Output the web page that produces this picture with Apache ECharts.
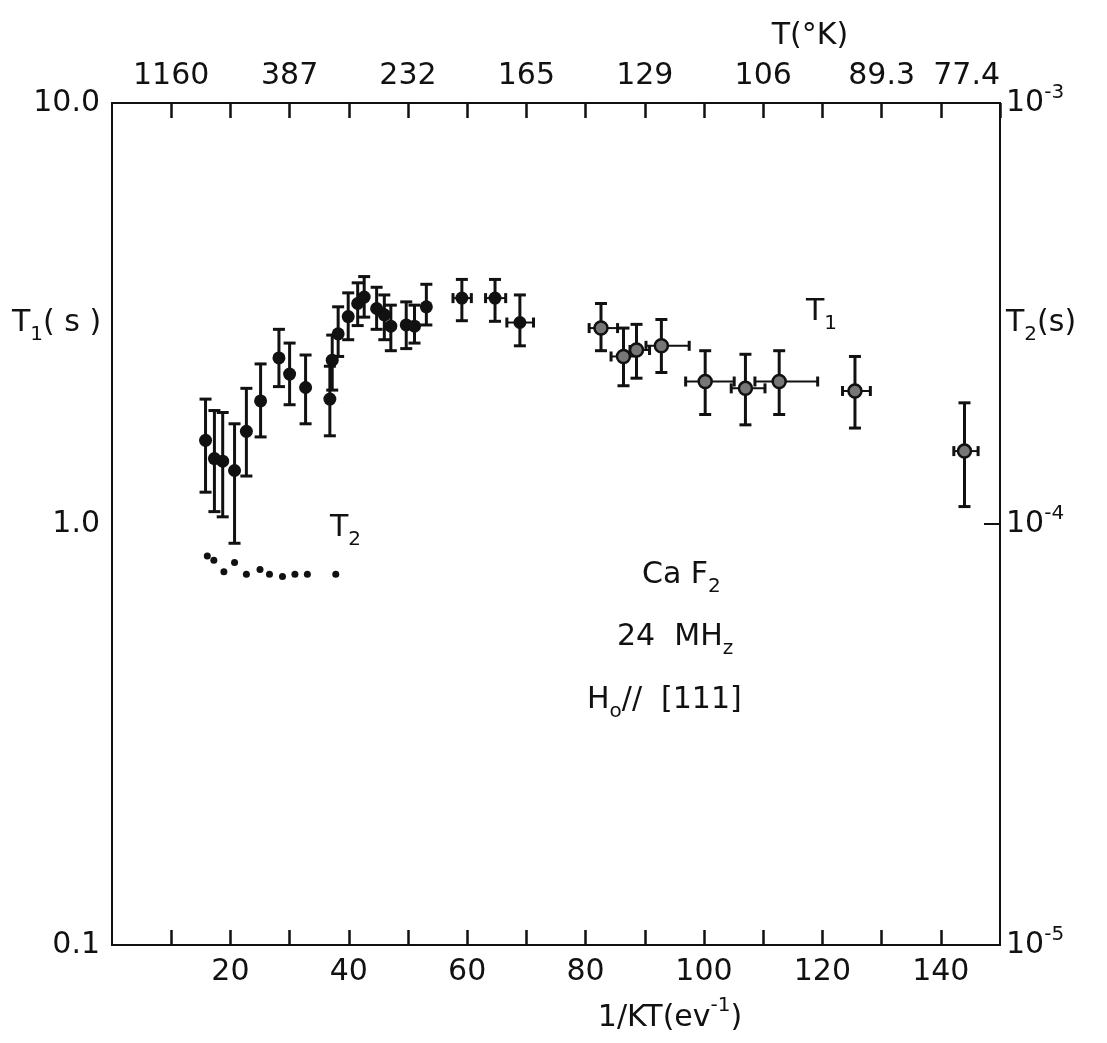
<!DOCTYPE html>
<html><head><meta charset="utf-8">
<script src="https://cdn.jsdelivr.net/npm/echarts@6/dist/echarts.min.js"></script>
<style>html,body{margin:0;padding:0;background:#fff}#c{width:1107px;height:1043px}</style>
</head><body><div id="c"></div>
<script>
// ---- T1 (s) vs 1/kT (eV^-1), with error bars ----
const t1X   = [15.8,17.3,18.7,20.7,22.7,25.1,28.2,30.0,32.7,36.8,37.2,38.2,39.9,41.5,42.6,44.7,46.0,47.1,49.7,51.1,53.1,59.1,64.7,68.9,82.6,86.4,88.6,92.8,100.2,107.0,112.7,125.5,144.0];
const t1Y   = [1.58,1.43,1.41,1.34,1.66,1.96,2.48,2.27,2.11,1.98,2.45,2.83,3.11,3.34,3.46,3.25,3.14,2.95,2.97,2.95,3.28,3.44,3.44,3.01,2.92,2.50,2.59,2.65,2.18,2.10,2.18,2.07,1.49];
const t1Hi  = [1.98,1.86,1.84,1.73,2.10,2.40,2.90,2.69,2.52,2.37,2.81,3.28,3.54,3.74,3.87,3.65,3.50,3.31,3.37,3.31,3.71,3.81,3.81,3.50,3.34,2.92,2.98,3.06,2.58,2.53,2.58,2.50,1.94];
const t1Lo  = [1.19,1.07,1.04,0.90,1.30,1.61,2.12,1.92,1.73,1.62,2.08,2.50,2.74,2.96,3.10,2.90,2.74,2.58,2.61,2.69,2.97,3.04,3.03,2.65,2.58,2.13,2.22,2.29,1.82,1.72,1.82,1.69,1.10];
const t1XLo = [null,null,null,null,null,null,null,null,null,null,null,null,null,null,null,null,null,null,null,null,null,57.6,63.1,66.7,80.6,84.3,87.5,90.2,96.9,104.6,108.6,123.4,142.2];
const t1XHi = [null,null,null,null,null,null,null,null,null,null,null,null,null,null,null,null,null,null,null,null,null,60.7,66.5,71.2,85.4,88.6,90.8,97.5,105.1,110.3,119.2,128.1,146.3];
const t1FilledCount = 24;   // first points drawn as solid dots, rest as ringed dots

// ---- T2 (s) vs 1/kT ----
const t2X = [16.1,17.2,18.9,20.7,22.7,25.0,26.6,28.8,30.9,33.0,37.8];
const t2Y = [8.4e-5,8.2e-5,7.7e-5,8.1e-5,7.6e-5,7.8e-5,7.6e-5,7.5e-5,7.6e-5,7.6e-5,7.6e-5];

// ---- axis tick labels ----
const bottomTicks  = [20,40,60,80,100,120,140];
const topTickPos   = [10,30,50,70,90,110,130,150];
const topTickText  = ['1160','387','232','165','129','106','89.3','77.4'];
const leftTickVal  = [0.1,1,10];
const leftTickText = ['0.1','1.0','10.0'];
const rightTickVal = [1e-5,1e-4,1e-3];
const rightTickExp = ['-5','-4','-3'];

const INK = '#111';
const FONT = 'DejaVu Sans';

const errData = t1X.map((x,i)=>[x,t1Y[i],t1Lo[i],t1Hi[i],
  t1XLo[i]==null?'-':t1XLo[i], t1XHi[i]==null?'-':t1XHi[i]]);
const filledPts = t1X.slice(0,t1FilledCount).map((x,i)=>[x,t1Y[i]]);
const openPts = t1X.slice(t1FilledCount).map((x,i)=>[x,t1Y[i+t1FilledCount]]);
const t2Pts = t2X.map((x,i)=>[x,t2Y[i]]);

function renderErr(params, api){
  const x=api.value(0), y=api.value(1), lo=api.value(2), hi=api.value(3), xl=api.value(4), xh=api.value(5);
  const c=api.coord([x,y]), cl=api.coord([x,lo]), ch=api.coord([x,hi]);
  const cap=6;
  const st={stroke:INK,lineWidth:3};
  const kids=[
    {type:'line',shape:{x1:c[0],y1:cl[1],x2:c[0],y2:ch[1]},style:st},
    {type:'line',shape:{x1:c[0]-cap,y1:ch[1],x2:c[0]+cap,y2:ch[1]},style:st},
    {type:'line',shape:{x1:c[0]-cap,y1:cl[1],x2:c[0]+cap,y2:cl[1]},style:st}
  ];
  if(!isNaN(xl) && !isNaN(xh)){
    const a=api.coord([xl,y]), b=api.coord([xh,y]);
    const hs={stroke:INK,lineWidth:2};
    kids.push({type:'line',shape:{x1:a[0],y1:c[1],x2:b[0],y2:c[1]},style:hs});
    kids.push({type:'line',shape:{x1:a[0],y1:c[1]-5,x2:a[0],y2:c[1]+5},style:{stroke:INK,lineWidth:3}});
    kids.push({type:'line',shape:{x1:b[0],y1:c[1]-5,x2:b[0],y2:c[1]+5},style:{stroke:INK,lineWidth:3}});
  }
  return {type:'group',children:kids};
}

const baseLbl = {color:INK,fontFamily:FONT,fontSize:30};
const rich = {
  a:{fontFamily:FONT,fontSize:30,color:INK,lineHeight:44,verticalAlign:'middle'},
  sub:{fontFamily:FONT,fontSize:20,color:INK,lineHeight:22,verticalAlign:'bottom'},
  sup:{fontFamily:FONT,fontSize:20,color:INK,lineHeight:22,verticalAlign:'top'}
};
function txt(x,y,text,align){
  return {type:'text',x:x,y:y,style:{text:text,rich:rich,align:align||'left',verticalAlign:'middle',fill:INK}};
}

const chart = echarts.init(document.getElementById('c'),null,{renderer:'canvas'});
chart.setOption({
  backgroundColor:'#fff',
  animation:false,
  grid:{left:112,top:103,width:888,height:842,show:true,borderColor:INK,borderWidth:2},
  xAxis:[{
    type:'value',min:0,max:150,interval:10,position:'bottom',
    axisLine:{show:true,onZero:false,lineStyle:{color:INK,width:2}},
    axisTick:{show:true,inside:true,length:15,lineStyle:{color:INK,width:2.5}},
    splitLine:{show:false},
    axisLabel:Object.assign({},baseLbl,{margin:12,showMinLabel:false,showMaxLabel:false,
      formatter:v=>bottomTicks.indexOf(v)>=0?String(v):''})
  },{
    type:'value',min:0,max:150,interval:10,position:'top',
    axisLine:{show:true,onZero:false,lineStyle:{color:INK,width:2}},
    axisTick:{show:true,inside:true,length:15,lineStyle:{color:INK,width:2.5}},
    splitLine:{show:false},
    axisLabel:Object.assign({},baseLbl,{margin:12,showMinLabel:false,showMaxLabel:true,alignMaxLabel:'right',
      formatter:v=>{const k=topTickPos.indexOf(v);return k>=0?topTickText[k]:'';}})
  }],
  yAxis:[{
    type:'log',logBase:10,min:0.1,max:10,position:'left',
    axisLine:{show:true,onZero:false,lineStyle:{color:INK,width:2}},
    axisTick:{show:false},
    splitLine:{show:false},minorTick:{show:false},
    axisLabel:Object.assign({},baseLbl,{margin:12,
      formatter:v=>{const k=leftTickVal.findIndex(t=>Math.abs(Math.log10(t)-Math.log10(v))<1e-6);return k>=0?leftTickText[k]:'';}})
  },{
    type:'log',logBase:10,min:1e-5,max:1e-3,position:'right',
    axisLine:{show:true,onZero:false,lineStyle:{color:INK,width:2}},
    axisTick:{show:true,inside:true,length:16,lineStyle:{color:INK,width:2}},
    splitLine:{show:false},minorTick:{show:false},
    axisLabel:{margin:6,rich:{b:{fontFamily:FONT,fontSize:30,color:INK,lineHeight:40,verticalAlign:'middle'},
                               p:{fontFamily:FONT,fontSize:20,color:INK,lineHeight:20,verticalAlign:'top'}},
      formatter:v=>{const k=rightTickVal.findIndex(t=>Math.abs(Math.log10(t)-Math.log10(v))<1e-6);return k>=0?'{b|10}{p|'+rightTickExp[k]+'}':'';}}
  }],
  series:[
    {type:'custom',name:'T1 err',xAxisIndex:0,yAxisIndex:0,renderItem:renderErr,data:errData,
     encode:{x:[0,4,5],y:[1,2,3]},z:2,clip:false},
    {type:'scatter',name:'T1',xAxisIndex:0,yAxisIndex:0,data:filledPts,symbol:'circle',symbolSize:13,
     itemStyle:{color:INK,opacity:1},z:3},
    {type:'scatter',name:'T1 open',xAxisIndex:0,yAxisIndex:0,data:openPts,symbol:'circle',symbolSize:13,
     itemStyle:{color:'#777',borderColor:INK,borderWidth:2.5,opacity:1},z:3},
    {type:'scatter',name:'T2',xAxisIndex:0,yAxisIndex:1,data:t2Pts,symbol:'circle',symbolSize:7,
     itemStyle:{color:INK,opacity:1},z:3}
  ],
  graphic:[
    txt(12,323,'{a|T}{sub|1}{a|( s )}'),
    txt(1006,323,'{a|T}{sub|2}{a|(s)}'),
    txt(810,36,'{a|T(°K)}','center'),
    txt(670,1018,'{a|1/KT(ev}{sup|-1}{a|)}','center'),
    txt(806,312,'{a|T}{sub|1}'),
    txt(330,528,'{a|T}{sub|2}'),
    txt(642,575,'{a|Ca F}{sub|2}'),
    txt(617,637,'{a|24  MH}{sub|z}'),
    txt(587,700,'{a|H}{sub|o}{a|//  [111]}')
  ]
});
</script></body></html>
